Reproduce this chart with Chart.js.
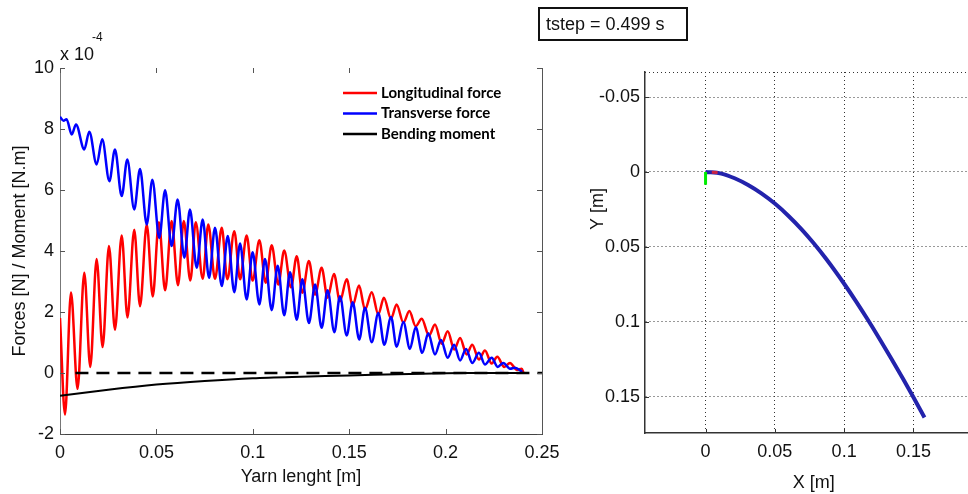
<!DOCTYPE html>
<html>
<head>
<meta charset="utf-8">
<script src="https://cdn.jsdelivr.net/npm/chart.js@4.4.1/dist/chart.umd.min.js"></script>
<style>
  html, body { margin: 0; padding: 0; background: #fff; overflow: hidden; width: 968px; height: 494px; }
  #left { position: absolute; left: 0; top: 0; width: 560px; height: 494px; }
  #right { position: absolute; left: 560px; top: 0; width: 440px; height: 494px; }
  #tstep { position: absolute; left: 538px; top: 7px; width: 140px; height: 30px; padding-left: 6px;
           border: 2px solid #111; font: 18px "Liberation Sans", Arial, sans-serif; line-height: 30px; color: #111; }
</style>
</head>
<body>
<div id="left"><canvas id="forces_chart"></canvas></div>
<div id="right"><canvas id="shape_chart"></canvas></div>
<div id="tstep">tstep = 0.499 s</div>
<script>
// ---- left panel: forces along the yarn (values in units of 1e-4) ----
const longX = [0, 0.0026, 0.0057, 0.0091, 0.0126, 0.0157, 0.0190, 0.0221, 0.0254, 0.0285,
  0.0320, 0.0350, 0.0385, 0.0415, 0.0450, 0.0481, 0.0513, 0.0545, 0.0579, 0.0612,
  0.0642, 0.0676, 0.0704, 0.0740, 0.0769, 0.0804, 0.0839, 0.0868, 0.0904, 0.0934,
  0.0968, 0.0999, 0.1034, 0.1067, 0.1098, 0.1132, 0.1163, 0.1198, 0.1228, 0.1257,
  0.1291, 0.1323, 0.1357, 0.1388, 0.1421, 0.1452, 0.1487, 0.1518, 0.1551, 0.1582,
  0.1617, 0.1651, 0.1680, 0.1717, 0.1746, 0.1781, 0.1812, 0.1845, 0.1876, 0.1914,
  0.1945, 0.1980, 0.2011, 0.2045, 0.2075, 0.2109, 0.2138, 0.2173, 0.2204, 0.2239,
  0.2268, 0.2304, 0.2334, 0.2369, 0.2395, 0.2403]
const longForce = [1.8, -1.36, 2.64, -0.52, 3.29, 0.2, 3.74, 0.85, 4.16, 1.42,
  4.51, 1.82, 4.70, 2.19, 4.87, 2.51, 4.94, 2.71, 4.98, 2.88,
  4.98, 3.03, 4.94, 3.09, 4.87, 3.09, 4.76, 3.07, 4.65, 3.07,
  4.51, 3.03, 4.35, 2.96, 4.19, 2.90, 4.02, 2.81, 3.83, 2.63,
  3.67, 2.57, 3.45, 2.47, 3.25, 2.35, 3.07, 2.21, 2.87, 2.08,
  2.65, 1.92, 2.47, 1.78, 2.25, 1.65, 2.03, 1.53, 1.78, 1.23,
  1.59, 0.96, 1.37, 0.77, 1.15, 0.61, 0.93, 0.44, 0.74, 0.31,
  0.53, 0.20, 0.33, 0.11, 0.14, 0.02]

const transX = [0, 0.0018, 0.0034, 0.0061, 0.0083, 0.0126, 0.0152, 0.0190, 0.0219, 0.0256,
  0.0285, 0.0320, 0.0349, 0.0385, 0.0415, 0.0450, 0.0479, 0.0515, 0.0545, 0.0579,
  0.0610, 0.0645, 0.0674, 0.0709, 0.0740, 0.0773, 0.0804, 0.0839, 0.0870, 0.0904,
  0.0934, 0.0968, 0.0999, 0.1034, 0.1063, 0.1098, 0.1129, 0.1163, 0.1193, 0.1228,
  0.1257, 0.1291, 0.1323, 0.1357, 0.1388, 0.1423, 0.1452, 0.1487, 0.1518, 0.1552,
  0.1582, 0.1617, 0.1651, 0.1682, 0.1717, 0.1746, 0.1781, 0.1815, 0.1845, 0.1879,
  0.1910, 0.1945, 0.1976, 0.2011, 0.2044, 0.2075, 0.2106, 0.2138, 0.2173, 0.2204,
  0.2239, 0.2270, 0.2299, 0.2334, 0.2360, 0.2398]
const transForce = [8.40, 8.27, 8.32, 7.82, 8.15, 7.33, 7.91, 6.84, 7.66, 6.29,
  7.33, 5.80, 7.00, 5.36, 6.69, 4.87, 6.34, 4.43, 5.99, 4.16,
  5.69, 3.78, 5.36, 3.45, 5.03, 3.12, 4.76, 2.85, 4.49, 2.65,
  4.25, 2.41, 3.96, 2.25, 3.74, 2.06, 3.52, 1.89, 3.30, 1.75,
  3.07, 1.64, 2.90, 1.48, 2.71, 1.34, 2.52, 1.23, 2.32, 1.10,
  2.14, 1.01, 1.97, 0.93, 1.84, 0.86, 1.67, 0.79, 1.50, 0.66,
  1.30, 0.61, 1.08, 0.50, 0.93, 0.41, 0.79, 0.33, 0.66, 0.28,
  0.50, 0.20, 0.33, 0.14, 0.17, 0.04]

const momentX = [0, 0.025, 0.05, 0.075, 0.1, 0.125, 0.15, 0.175, 0.2, 0.22, 0.24]
const moment = [-0.75, -0.55, -0.38, -0.26, -0.17, -0.12, -0.08, -0.04, -0.01, 0, 0]

const zeroX = [0.008, 0.25]
const zeroY = [0, 0]

const leftXTicks = [0, 0.05, 0.1, 0.15, 0.2, 0.25]
const leftYTicks = [-2, 0, 2, 4, 6, 8, 10]

// ---- right panel: yarn shape ----
const shapeX = [0, 0.0114, 0.021, 0.0307, 0.0403, 0.05, 0.0597, 0.0693, 0.0776, 0.0871,
  0.1, 0.1087, 0.117, 0.1255, 0.134, 0.1424, 0.15, 0.158]
const shapeY = [0, 0.0011, 0.0042, 0.0087, 0.0143, 0.0211, 0.0292, 0.0383, 0.0471, 0.0581,
  0.0746, 0.0865, 0.0985, 0.1113, 0.1245, 0.1379, 0.1504, 0.1638]
const greenX = [0, 0]
const greenY = [0, 0.0085]
const tipX = [0.0045, 0.0087]
const tipY = [0.0002, 0.0004]

const rightXTicks = [0, 0.05, 0.1, 0.15, 0.2]
const rightYTicks = [-0.05, 0, 0.05, 0.1, 0.15]

const FONT = '"Liberation Sans", Arial, sans-serif'

function pts(xs, ys) {
  return xs.map((x, i) => ({x: x, y: ys[i]}))
}

function fixTicks(values) {
  return function(scale) {
    scale.ticks = values.map(v => ({value: v}))
  }
}

// keep the plot box exactly where the axes were fitted (no label overhang padding)
function fitX(h) {
  return function(s) {
    s.height = h
    s.paddingLeft = 0
    s.paddingRight = 0
  }
}
function fitY(w) {
  return function(s) {
    s.width = w
    s.paddingTop = 0
    s.paddingBottom = 0
  }
}

// inward tick marks and extra frame lines, MATLAB style
const frameTicks = {
  id: 'frameTicks',
  afterDatasetsDraw(chart, args, opts) {
    const ctx = chart.ctx
    const a = chart.chartArea
    const x = chart.scales.x
    const y = chart.scales.y
    const len = opts.len || 5
    ctx.save()
    ctx.strokeStyle = opts.color || '#555'
    ctx.lineWidth = 1
    ctx.beginPath()
    x.ticks.forEach(t => {
      const px = Math.round(x.getPixelForValue(t.value)) + 0.5
      if (px > a.right + 1) return
      ctx.moveTo(px, a.bottom)
      ctx.lineTo(px, a.bottom - len)
      if (opts.top) {
        ctx.moveTo(px, a.top)
        ctx.lineTo(px, a.top + len)
      }
    })
    y.ticks.forEach(t => {
      const py = Math.round(y.getPixelForValue(t.value)) + 0.5
      ctx.moveTo(a.left, py)
      ctx.lineTo(a.left + len, py)
      if (opts.right) {
        ctx.moveTo(a.right, py)
        ctx.lineTo(a.right - len, py)
      }
    })
    if (opts.right) {
      ctx.moveTo(Math.round(a.right) + 0.5, a.top)
      ctx.lineTo(Math.round(a.right) + 0.5, a.bottom)
    }
    ctx.stroke()
    if (opts.dottedTop) {
      ctx.setLineDash([1, 3])
      ctx.strokeStyle = '#333'
      ctx.beginPath()
      ctx.moveTo(a.left, Math.round(a.top) + 0.5)
      ctx.lineTo(a.right, Math.round(a.top) + 0.5)
      ctx.stroke()
    }
    ctx.restore()
  }
}

// legend box inside the plot + free texts
const notes = {
  id: 'notes',
  afterDatasetsDraw(chart, args, opts) {
    const ctx = chart.ctx
    ctx.save()
    if (opts.legend) {
      const L = opts.legend
      ctx.fillStyle = '#fff'
      ctx.fillRect(L.boxX, L.boxY, L.boxW, L.boxH)
      ctx.font = 'bold 15px Lato, "Open Sans", sans-serif'
      ctx.textBaseline = 'middle'
      chart.data.datasets.filter(d => d.label).forEach((d, i) => {
        const yy = L.y + i * L.step
        ctx.strokeStyle = d.borderColor
        ctx.lineWidth = 2.5
        ctx.setLineDash([])
        ctx.beginPath()
        ctx.moveTo(L.x, yy)
        ctx.lineTo(L.x + 34, yy)
        ctx.stroke()
        ctx.fillStyle = '#000'
        ctx.fillText(d.label, L.x + 38, yy)
      })
    }
    (opts.texts || []).forEach(t => {
      ctx.save()
      ctx.font = t.font
      ctx.fillStyle = '#111'
      ctx.textAlign = t.align || 'left'
      ctx.textBaseline = 'middle'
      ctx.translate(t.x, t.y)
      if (t.rot) ctx.rotate(t.rot)
      ctx.fillText(t.text, 0, 0)
      ctx.restore()
    })
    ctx.restore()
  }
}

const leftChart = new Chart(document.getElementById('forces_chart'), {
  type: 'line',
  data: {
    datasets: [
      {
        label: 'Longitudinal force',
        data: pts(longX, longForce),
        borderColor: '#ff0000',
        borderWidth: 2.5,
        pointRadius: 0,
        cubicInterpolationMode: 'monotone',
        fill: false,
        order: 2
      },
      {
        label: 'Transverse force',
        data: pts(transX, transForce),
        borderColor: '#0000ff',
        borderWidth: 2.5,
        pointRadius: 0,
        cubicInterpolationMode: 'monotone',
        fill: false,
        order: 1
      },
      {
        label: 'Bending moment',
        data: pts(momentX, moment),
        borderColor: '#000000',
        borderWidth: 2,
        pointRadius: 0,
        tension: 0.3,
        fill: false,
        order: 0
      },
      {
        data: pts(zeroX, zeroY),
        borderColor: '#000000',
        borderWidth: 2.5,
        borderDash: [13, 8],
        pointRadius: 0,
        fill: false,
        order: 0
      }
    ]
  },
  options: {
    responsive: true,
    maintainAspectRatio: false,
    animation: false,
    layout: {padding: {left: 0, top: 68, right: 18, bottom: 0}},
    plugins: {
      legend: {display: false},
      tooltip: {enabled: false},
      frameTicks: {top: true, right: true, color: '#555', len: 5},
      notes: {
        legend: {x: 343, y: 93, step: 20.5, boxX: 380, boxY: 66, boxW: 150, boxH: 84},
        texts: [
          {text: 'x 10', x: 60, y: 55, font: '18px ' + FONT},
          {text: '-4', x: 92, y: 38, font: '12px ' + FONT}
        ]
      }
    },
    scales: {
      x: {
        type: 'linear',
        min: 0,
        max: 0.25,
        afterBuildTicks: fixTicks(leftXTicks),
        afterFit: fitX(60),
        grid: {display: false, drawTicks: false},
        border: {display: true, color: '#444', width: 1},
        ticks: {padding: 8, color: '#111', font: {family: FONT, size: 18}, maxRotation: 0, callback: v => String(v)},
        title: {display: true, text: 'Yarn lenght [m]', color: '#111', font: {family: FONT, size: 18}, padding: {top: 0, bottom: 6}}
      },
      y: {
        type: 'linear',
        min: -2,
        max: 10,
        afterBuildTicks: fixTicks(leftYTicks),
        afterFit: fitY(60),
        grid: {display: false, drawTicks: false},
        border: {display: true, color: '#777', width: 1},
        ticks: {padding: 6, color: '#111', font: {family: FONT, size: 18}, callback: v => String(v)},
        title: {display: true, text: 'Forces [N] / Moment [N.m]', color: '#111', font: {family: FONT, size: 18}, padding: {top: 9, bottom: 0}}
      }
    }
  },
  plugins: [frameTicks, notes]
})

const rightChart = new Chart(document.getElementById('shape_chart'), {
  type: 'scatter',
  data: {
    datasets: [
      {
        data: pts(greenX, greenY),
        borderColor: '#00ee00',
        borderWidth: 3,
        showLine: true,
        pointRadius: 0,
        order: 0
      },
      {
        data: pts(tipX, tipY),
        borderColor: '#cc2244',
        borderWidth: 3,
        showLine: true,
        pointRadius: 0,
        order: 0
      },
      {
        data: pts(shapeX, shapeY),
        borderColor: '#2323ac',
        borderWidth: 4,
        showLine: true,
        pointRadius: 0,
        cubicInterpolationMode: 'monotone',
        order: 1
      }
    ]
  },
  options: {
    responsive: true,
    maintainAspectRatio: false,
    animation: false,
    layout: {padding: {left: 0, top: 72, right: 17.3, bottom: 0}},
    plugins: {
      legend: {display: false},
      tooltip: {enabled: false},
      frameTicks: {top: false, right: false, color: '#333', len: 4, dottedTop: true},
      notes: {
        texts: [
          {text: 'Y [m]', x: 38, y: 209, font: '18px ' + FONT, align: 'center', rot: -Math.PI / 2}
        ]
      }
    },
    scales: {
      x: {
        type: 'linear',
        min: -0.0437,
        max: 0.2,
        afterBuildTicks: fixTicks(rightXTicks),
        afterFit: fitX(61),
        grid: {display: true, drawTicks: false, color: '#333', lineWidth: 1},
        border: {display: true, color: '#333', width: 1.5, dash: [1, 3]},
        ticks: {padding: 8, color: '#111', font: {family: FONT, size: 18}, maxRotation: 0, callback: v => String(v)},
        title: {display: true, text: 'X [m]', color: '#111', font: {family: FONT, size: 18}, padding: {top: 0, bottom: 0}}
      },
      y: {
        type: 'linear',
        reverse: true,
        min: -0.0667,
        max: 0.1742,
        afterBuildTicks: fixTicks(rightYTicks),
        afterFit: fitY(85),
        grid: {display: true, drawTicks: false, color: '#333', lineWidth: 1},
        border: {display: true, color: '#333', width: 1.5, dash: [1, 3]},
        ticks: {padding: 5, color: '#111', font: {family: FONT, size: 18}, callback: v => String(v)}
      }
    }
  },
  plugins: [frameTicks, notes]
})
</script>
</body>
</html>
